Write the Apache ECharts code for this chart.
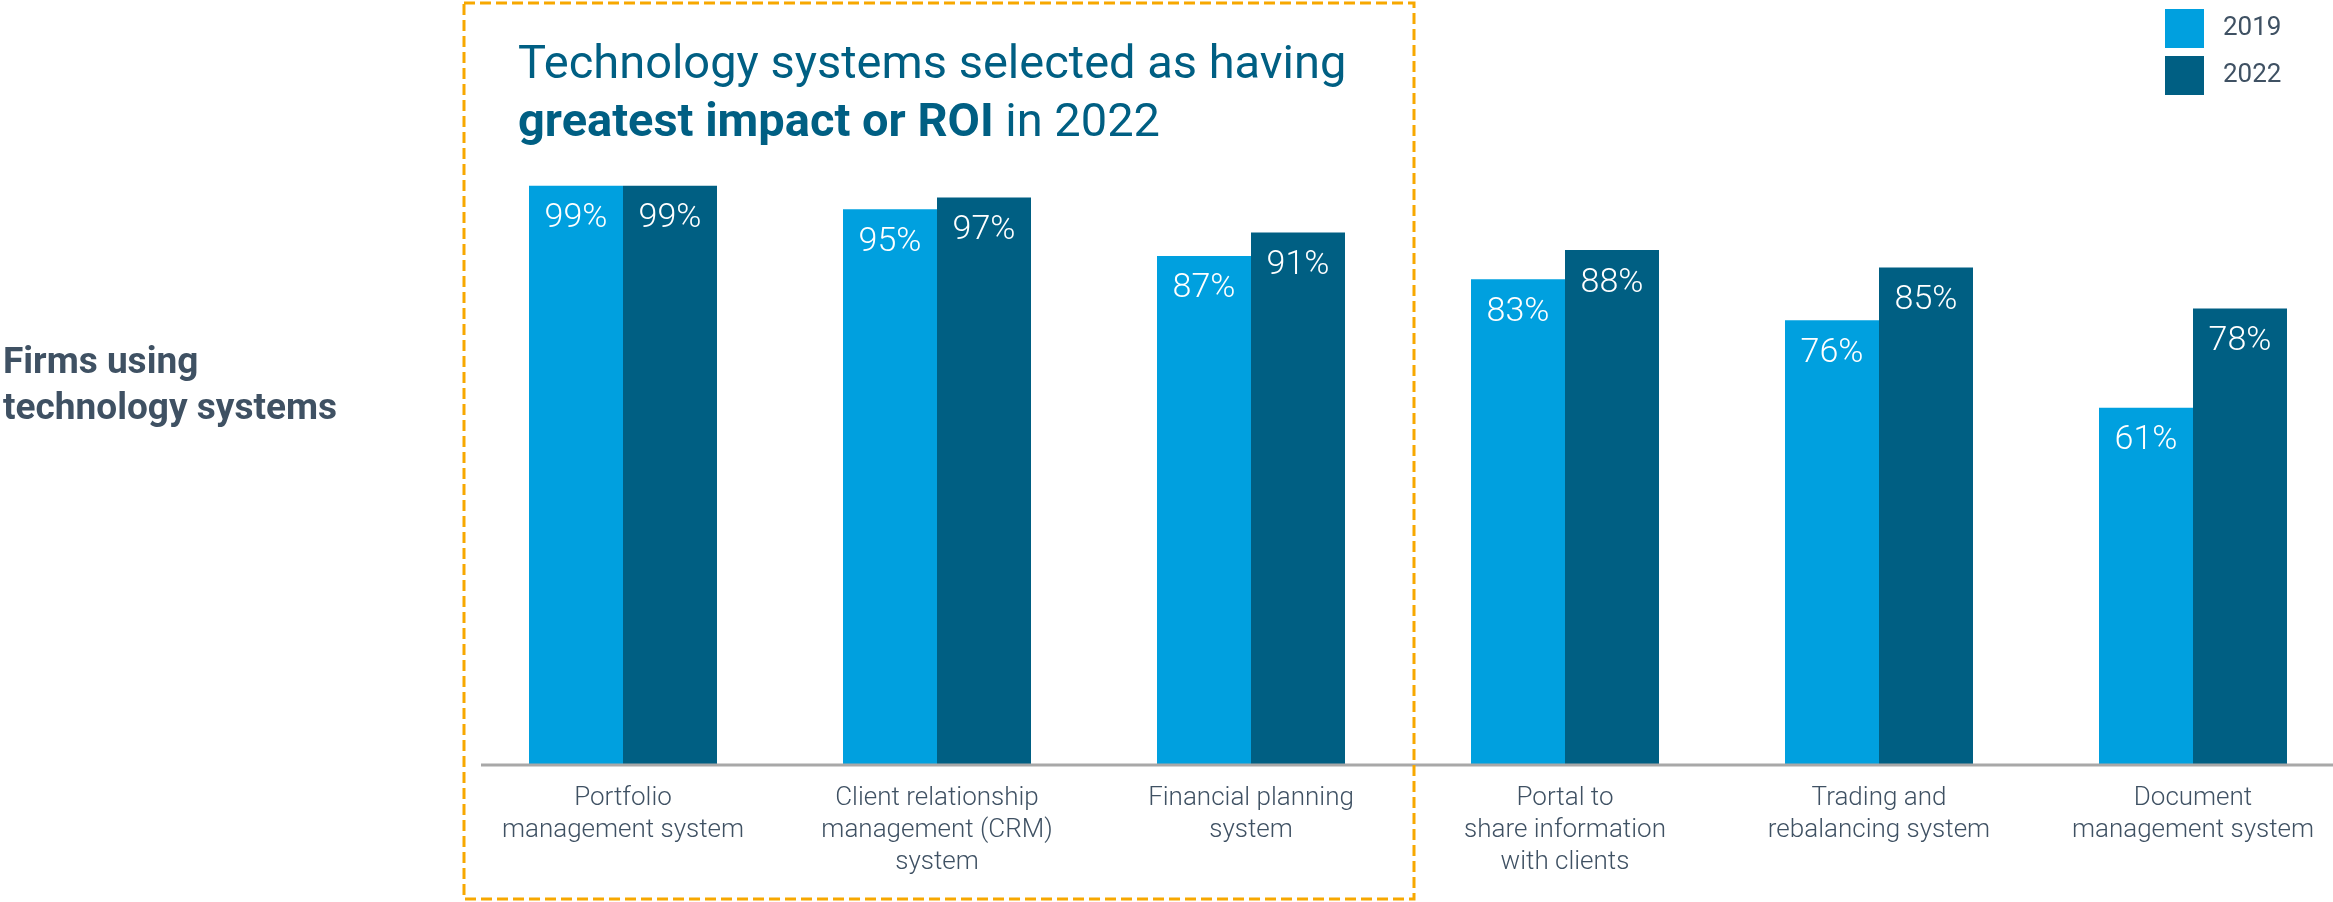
<!DOCTYPE html>
<html>
<head>
<meta charset="utf-8">
<script src="https://cdn.jsdelivr.net/npm/echarts@6/dist/echarts.min.js"></script>
<style>
  html, body { margin: 0; padding: 0; background: #ffffff; }
  #chart { width: 2333px; height: 902px; }
</style>
</head>
<body>
<div id="chart"></div>
<script>
// Technology systems in use, share of firms by survey year
const categories = [
  'Portfolio\nmanagement system',
  'Client relationship\nmanagement (CRM)\nsystem',
  'Financial planning\nsystem',
  'Portal to\nshare information\nwith clients',
  'Trading and\nrebalancing system',
  'Document\nmanagement system'
];
const values2019 = [99, 95, 87, 83, 76, 61];
const values2022 = [99, 97, 91, 88, 85, 78];
const seriesNames = ['2019', '2022'];

const COLOR_2019 = '#00A0DF';
const COLOR_2022 = '#005F83';
const TEXT_GRAY = '#3F5163';

const chart = echarts.init(document.getElementById('chart'), null, { renderer: 'canvas' });

const valueLabel = {
  show: true,
  position: 'insideTop',
  distance: 16,
  color: '#ffffff',
  fontFamily: 'Roboto',
  fontWeight: 300,
  fontSize: 34,
  formatter: p => p.value + '%'
};

chart.setOption({
  animation: false,
  backgroundColor: '#ffffff',
  title: [
    {
      left: 513,
      top: 32,
      text: '{a|Technology systems selected as having}\n{b|greatest impact or ROI}{a| in 2022}',
      textStyle: {
        rich: {
          a: { fontFamily: 'Roboto', fontSize: 47, fontWeight: 400, color: COLOR_2022, lineHeight: 58 },
          b: { fontFamily: 'Roboto', fontSize: 47, fontWeight: 700, color: COLOR_2022, lineHeight: 58 }
        }
      }
    },
    {
      left: -2,
      top: 336,
      text: 'Firms using\ntechnology systems',
      textStyle: {
        fontFamily: 'Roboto',
        fontWeight: 700,
        fontSize: 37,
        lineHeight: 46,
        color: TEXT_GRAY
      }
    }
  ],
  legend: {
    orient: 'vertical',
    left: 2160,
    top: 4,
    itemWidth: 39,
    itemHeight: 39,
    itemGap: 8,
    icon: 'rect',
    data: seriesNames,
    textStyle: { fontFamily: 'Roboto', fontSize: 26, color: TEXT_GRAY, padding: [0, 0, 0, 14] }
  },
  // the last category band runs slightly past the right edge of the canvas
  grid: { left: 466, width: 1884, top: 180, bottom: 138, outerBoundsMode: 'none', containLabel: false },
  xAxis: {
    type: 'category',
    data: categories,
    axisLine: { show: false },
    axisTick: { show: false },
    axisLabel: {
      interval: 0,
      margin: 18,
      fontFamily: 'Roboto',
      fontWeight: 300,
      fontSize: 26,
      lineHeight: 32,
      color: TEXT_GRAY
    }
  },
  yAxis: {
    type: 'value',
    min: 0,
    max: 100,
    show: false,
    splitLine: { show: false }
  },
  series: [
    {
      name: seriesNames[0],
      type: 'bar',
      data: values2019,
      barWidth: 94,
      barGap: '0%',
      itemStyle: { color: COLOR_2019 },
      label: valueLabel
    },
    {
      name: seriesNames[1],
      type: 'bar',
      data: values2022,
      barWidth: 94,
      barGap: '0%',
      itemStyle: { color: COLOR_2022 },
      label: valueLabel
    }
  ],
  graphic: [
    {
      // baseline under the bars
      type: 'line',
      z: 10,
      shape: { x1: 481, y1: 765, x2: 2333, y2: 765 },
      style: { stroke: '#A8A8A8', lineWidth: 3 }
    },
    {
      // highlight frame around the three leading systems
      type: 'rect',
      z: 10,
      shape: { x: 464, y: 3, width: 950, height: 896 },
      style: { fill: 'none', stroke: '#F7A800', lineWidth: 3, lineDash: [11, 5] }
    }
  ]
});
</script>
</body>
</html>
